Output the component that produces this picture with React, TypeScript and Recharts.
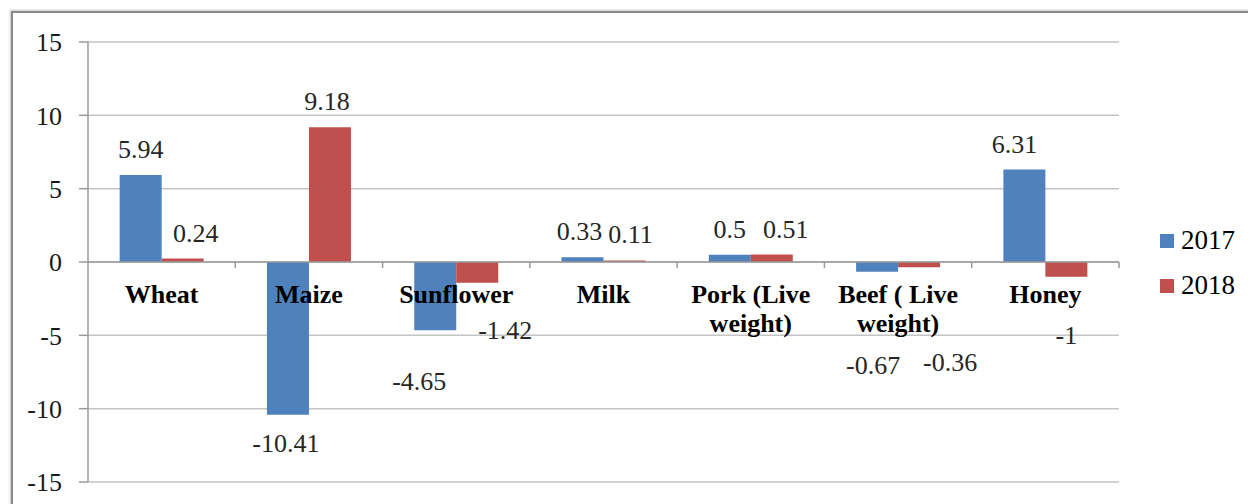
import {
    BarChart,
    Bar,
    XAxis,
    YAxis,
    CartesianGrid,
    Legend,
    LabelList,
    ReferenceLine,
    ReferenceDot,
} from 'recharts';

const categories = ['Wheat', 'Maize', 'Sunflower', 'Milk', 'Pork (Live weight)', 'Beef ( Live weight)', 'Honey'];
const categoryLines = [['Wheat'], ['Maize'], ['Sunflower'], ['Milk'], ['Pork (Live', 'weight)'], ['Beef ( Live', 'weight)'], ['Honey']];
const values2017 = [5.94, -10.41, -4.65, 0.33, 0.5, -0.67, 6.31];
const values2018 = [0.24, 9.18, -1.42, 0.11, 0.51, -0.36, -1];
const yTicks = [-15, -10, -5, 0, 5, 10, 15];

// hand-placed label offsets (px) like the original Excel chart
const nudge2017 = [[0, 0], [-2, 0], [-16, 23], [-3, 0], [0, 0], [-4, 65], [-10, 0]];
const nudge2018 = [[13, 0], [-3, 0], [28, 19], [6, 0], [14, 0], [31, 67], [0, 30]];

const data = categories.map((name, i) => ({ name, y2017: values2017[i], y2018: values2018[i] }));

const SERIF = 'Liberation Serif, DejaVu Serif, Times New Roman, serif';
const BLUE = '#4F81BD';
const RED = '#C0504D';
const BAND = (1119 - 88) / categories.length;

function makeValueLabel(nudges: number[][]) {
    return (props: any) => {
        const { x, y, width, height, value, index } = props;
        const end = value >= 0 ? Math.min(y, y + height) : Math.max(y, y + height);
        const [dx, dy] = nudges[index] || [0, 0];
        const cy = end + (value >= 0 ? -26 : 28) + dy;
        return (
            <text
                x={x + width / 2 + dx}
                y={cy}
                dy="0.35em"
                textAnchor="middle"
                style={{ fontFamily: SERIF, fontSize: 26 }}
                fill="#262626"
            >
                {value}
            </text>
        );
    };
}

function categoryMark(lines: string[]) {
    return (props: any) => {
        const { cx, cy } = props;
        return (
            <g>
                <line x1={cx + BAND / 2} x2={cx + BAND / 2} y1={cy} y2={cy + 6} stroke="#9a9a9a" strokeWidth={1.5} />
                {lines.map((t, i) => (
                    <text
                        key={t}
                        x={cx}
                        y={cy + 32 + i * 29}
                        dy="0.35em"
                        textAnchor="middle"
                        style={{ fontFamily: SERIF, fontSize: 26, fontWeight: 'bold' }}
                        fill="#000"
                    >
                        {t}
                    </text>
                ))}
            </g>
        );
    };
}

function LegendBox() {
    const items = [
        { label: '2017', color: BLUE },
        { label: '2018', color: RED },
    ];
    return (
        <div>
            {items.map((it) => (
                <div key={it.label} style={{ display: 'flex', alignItems: 'center', height: 45 }}>
                    <span style={{ width: 14, height: 14, background: it.color, marginRight: 7 }} />
                    <span style={{ fontFamily: SERIF, fontSize: 27, color: '#000' }}>{it.label}</span>
                </div>
            ))}
        </div>
    );
}

export default function App() {
    return (
        <div style={{ position: 'absolute', left: 0, top: 0, width: 1248, height: 504, overflow: 'hidden', background: '#fff' }}>
            <div
                style={{
                    position: 'absolute',
                    left: 11,
                    top: 11,
                    width: 1300,
                    height: 600,
                    borderLeft: '2px solid #8a8a8a',
                    borderTop: '2px solid #8a8a8a',
                    boxShadow: '-1px -1px 2px #c8c8c8',
                }}
            />
            <div style={{ position: 'absolute', left: 0, top: 0 }}>
                <BarChart
                    width={1248}
                    height={504}
                    data={data}
                    margin={{ top: 42, right: 129, bottom: 22, left: 0 }}
                    barCategoryGap="21.5%"
                    barGap={0}
                >
                    <CartesianGrid vertical={false} stroke="#c4c4c4" strokeWidth={1.5} />
                    <XAxis dataKey="name" hide />
                    <YAxis
                        width={88}
                        domain={[-15, 15]}
                        ticks={yTicks}
                        interval={0}
                        axisLine={{ stroke: '#9a9a9a', strokeWidth: 1.5 }}
                        tickLine={{ stroke: '#9a9a9a', strokeWidth: 1.5 }}
                        tickSize={9}
                        tickMargin={17}
                        tick={{ style: { fontFamily: SERIF, fontSize: 26 }, fill: '#1a1a1a' }}
                    />
                    <ReferenceLine y={0} stroke="#9a9a9a" strokeWidth={1.5} />
                    <Legend
                        layout="vertical"
                        align="center"
                        verticalAlign="middle"
                        content={() => <LegendBox />}
                        wrapperStyle={{ position: 'absolute', left: 1160, top: 218, width: 90 }}
                    />
                    <Bar dataKey="y2017" name="2017" fill={BLUE} isAnimationActive={false}>
                        <LabelList dataKey="y2017" content={makeValueLabel(nudge2017)} />
                    </Bar>
                    <Bar dataKey="y2018" name="2018" fill={RED} isAnimationActive={false}>
                        <LabelList dataKey="y2018" content={makeValueLabel(nudge2018)} />
                    </Bar>
                    {categories.map((c, i) => (
                        <ReferenceDot key={c} x={c} y={0} r={0} shape={categoryMark(categoryLines[i])} />
                    ))}
                </BarChart>
            </div>
        </div>
    );
}
